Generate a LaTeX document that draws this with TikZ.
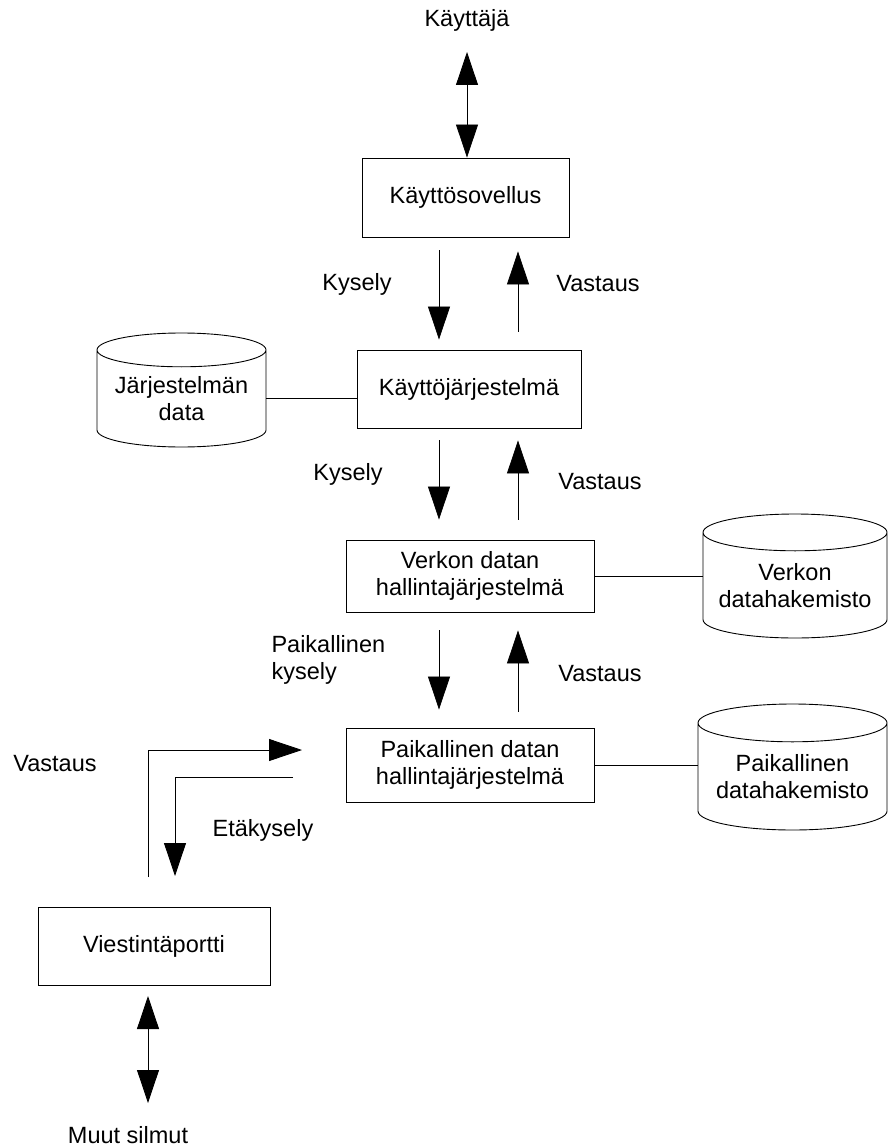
\documentclass[tikz,border=0pt]{standalone}
\usepackage{fontspec}
\setmainfont{Liberation Sans}
\usetikzlibrary{arrows.meta,shapes.geometric}

\tikzset{
  box/.style={draw, line width=0.9pt, align=center, inner sep=0pt},
  store/.style args={#1x#2}{draw, line width=0.9pt, cylinder, shape border rotate=90, aspect=0.2,
                            align=center, inner sep=0pt, anchor=shape center,
                            text width=#1, minimum width=#1, minimum height=#2},
  flow/.style={line width=0.8pt, -{Triangle[length=33pt,width=22pt]}},
  twoway/.style={line width=0.8pt, {Triangle[length=33pt,width=22pt]}-{Triangle[length=33pt,width=22pt]}},
  link/.style={line width=0.8pt}
}

\begin{document}
\begin{tikzpicture}[x=1pt, y=-1pt, font=\fontsize{23.5}{27}\selectfont]
  \useasboundingbox (0,0) rectangle (888,1147);

  % --- columns of the query / answer arrows ---
  \coordinate (qx) at (439,0);
  \coordinate (ax) at (518,0);

  % --- user and application ---
  \node (user) at (467,20) {Käyttäjä};
  \node[box, minimum width=207pt, minimum height=79pt] (app) at (465.5,197.5) {Käyttösovellus};
  \coordinate (usertip) at (467,52);
  \draw[twoway] (usertip) -- (usertip |- app.north);

  % --- operating system ---
  \node[box, minimum width=224pt, minimum height=78pt] (os) at (469,389) {Käyttöjärjestelmä};
  \node[store=169ptx114pt] (sysdata) at (181.5,390) {Järjestelmän\\data};
  \draw[link] (sysdata.east) -- (sysdata.east -| os.west);

  \draw[flow, shorten <=13pt, shorten >=10pt] (app.south -| qx) -- (os.north -| qx);
  \draw[flow, shorten <=18pt, shorten >=14pt] (os.north -| ax) -- (app.south -| ax);
  \node (q1) at (357,284) {Kysely};
  \node (a1) at (598,284) {Vastaus};

  % --- network data manager ---
  \node[box, minimum width=248pt, minimum height=72pt] (netdm) at (470,576) {Verkon datan\\hallintajärjestelmä};
  \node[store=184ptx124pt] (netdir) at (795,576) {Verkon\\datahakemisto};
  \draw[link] (netdm.east) -- (netdm.east -| netdir.west);

  \draw[flow, shorten <=12pt, shorten >=20pt] (os.south -| qx) -- (netdm.north -| qx);
  \draw[flow, shorten <=20pt, shorten >=12pt] (netdm.north -| ax) -- (os.south -| ax);
  \node (q2) at (348,474) {Kysely};
  \node (a2) at (600,482) {Vastaus};

  % --- local data manager ---
  \node[box, minimum width=248pt, minimum height=74pt] (locdm) at (470,765) {Paikallinen datan\\hallintajärjestelmä};
  \node[store=189ptx126pt] (locdir) at (792.5,767) {Paikallinen\\datahakemisto};
  \draw[link] (locdm.east) -- (locdm.east -| locdir.west);

  \draw[flow, shorten <=18pt, shorten >=18pt] (netdm.south -| qx) -- (locdm.north -| qx);
  \draw[flow, shorten <=16pt, shorten >=18pt] (locdm.north -| ax) -- (netdm.south -| ax);
  \node[align=left, anchor=west] (q3) at (268,660) {Paikallinen\\kysely};
  \node (a3) at (600,674) {Vastaus};

  % --- remote query ---
  \coordinate (rbot) at (148,877);
  \coordinate (rtip) at (302,750);
  \draw[flow] (rbot) |- (rtip);
  \coordinate (estart) at (293,777);
  \coordinate (etip) at (175,876);
  \draw[flow] (estart) -| (etip);
  \node (a4) at (55,764) {Vastaus};
  \node (q4) at (263,830) {Etäkysely};

  % --- message port ---
  \node[box, minimum width=232pt, minimum height=78pt] (port) at (154,946) {Viestintäportti};
  \node (peers) at (128,1135) {Muut silmut};
  \coordinate (ptop) at (148,996);
  \coordinate (pbot) at (148,1103);
  \draw[twoway] (ptop) -- (pbot);
\end{tikzpicture}
\end{document}
